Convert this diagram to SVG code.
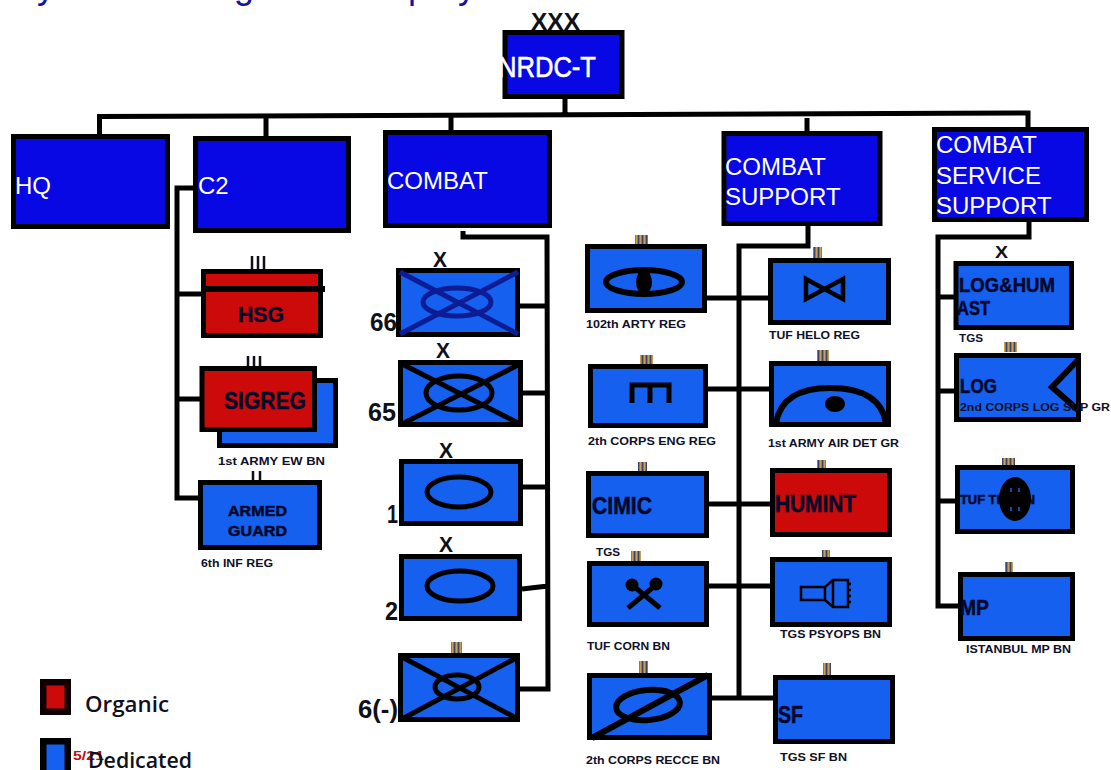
<svg xmlns="http://www.w3.org/2000/svg" width="1111" height="770" viewBox="0 0 1111 770">
<defs>
<pattern id="tick" width="4" height="4" patternUnits="userSpaceOnUse">
<rect width="4" height="4" fill="#6a7cb0"/><rect width="1" height="4" fill="#c8a050"/><rect x="2" width="1" height="4" fill="#3a4270"/>
</pattern>
</defs>
<style>
text{font-family:"Liberation Sans",Arial,sans-serif}
.b{fill:#0808e4;stroke:#000;stroke-width:5}
.m{fill:#1560ee;stroke:#000;stroke-width:5}
.r{fill:#cc0a0a;stroke:#000;stroke-width:5}
.w{fill:#fff;font-size:24px}
.d{fill:#06082a;stroke:#06082a;stroke-width:.5;font-weight:bold;font-size:22px}
.k{fill:#101018;font-weight:bold}
.l{fill:#101028;font-weight:bold;font-size:10.5px}
.c{fill:none;stroke:#000;stroke-width:5}
.s{fill:none;stroke:#000;stroke-width:5}
.n{fill:none;stroke:#0c1c94;stroke-width:5}
.t{fill:url(#tick)}
.tk{fill:none;stroke:#101018;stroke-width:2.5}
.h{fill:#14149c;font-size:36px}
.lg{fill:#10101c;font-size:22px;font-family:"Open Sans","Liberation Sans",sans-serif;font-weight:600}
</style>
<g id="title">
<text class="h" x="37" y="-2">y</text>
<text class="h" x="234" y="-2">g</text>
<text class="h" x="408" y="-2">p</text>
<text class="h" x="458" y="-2">y</text>
</g>
<g id="connectors">
<path class="c" d="M565 99V115M99.500 135V116.500L1028 113V128M266 118V137M451 117V131M807 118V132"/>
<path class="c" d="M197 188H177V498H199M177 294H202M177 399H200"/>
<path class="c" d="M463 231V237H547L548 689H520M520 306H546M523 393H547M523 487H547M522 589L548 586"/>
<path class="c" d="M808 226V246H739V698M707 298H768M708 389H769M709 504H770M709 586H770M712 698H773"/>
<path class="c" d="M1029 222V237H938V606H960M938 297H955M938 391H955M938 501H956"/>
</g>
<g id="nrdc-t"><rect class="b" x="505" y="32.500" width="117" height="64"/><text x="498" y="77" textLength="98" lengthAdjust="spacingAndGlyphs" style="fill:#fff;stroke:#fff;stroke-width:.6;font-size:30px">NRDC-T</text><text class="k" x="531" y="30" textLength="49" lengthAdjust="spacingAndGlyphs" style="font-size:23px">XXX</text></g>
<g id="hq"><rect class="b" x="13.500" y="136.500" width="154" height="90"/><text class="w" x="15" y="194">HQ</text></g>
<g id="c2"><rect class="b" x="195.500" y="138.500" width="153" height="92"/><text class="w" x="198" y="194">C2</text></g>
<g id="combat"><rect class="b" x="385.500" y="132.500" width="164" height="93"/><text class="w" x="387" y="189">COMBAT</text></g>
<g id="combat-support"><rect class="b" x="724" y="133.500" width="156" height="90"/><text class="w" x="725" y="175">COMBAT</text><text class="w" x="725" y="205">SUPPORT</text></g>
<g id="combat-service-support"><rect class="b" x="934.500" y="129.500" width="152" height="90"/><text class="w" x="936" y="153">COMBAT</text><text class="w" x="936" y="184">SERVICE</text><text class="w" x="936" y="214">SUPPORT</text></g>

<g id="hsg"><rect class="r" x="203.500" y="271.500" width="117" height="64"/><path d="M201 289H325" stroke="#000" stroke-width="6"/><path class="tk" d="M252 256V269M258 256V269M264 256V269"/><text class="d" x="238" y="322" textLength="46" lengthAdjust="spacingAndGlyphs">HSG</text></g>
<g id="sigreg"><rect class="m" x="219.500" y="380.500" width="116" height="65"/><rect class="r" x="202" y="368.500" width="112.500" height="61"/><path class="tk" d="M248 356V366M254 356V366M260 356V366"/><text class="d" x="224" y="409" textLength="82" lengthAdjust="spacingAndGlyphs" style="font-size:24px">SIGREG</text><text class="l" x="218" y="465" textLength="107" lengthAdjust="spacingAndGlyphs">1st ARMY EW BN</text></g>
<g id="armed-guard"><rect class="m" x="200.500" y="482.500" width="119" height="65"/><path class="tk" d="M253 471V480M260 471V480"/><text class="d" x="228" y="516" textLength="59" lengthAdjust="spacingAndGlyphs" style="font-size:15px">ARMED</text><text class="d" x="228" y="536" textLength="59" lengthAdjust="spacingAndGlyphs" style="font-size:15px">GUARD</text><text class="l" x="201" y="567" textLength="72" lengthAdjust="spacingAndGlyphs">6th INF REG</text></g>

<g id="bde-66"><rect class="m" x="398.500" y="270.500" width="119" height="64"/><path class="n" d="M400 272L518 334M518 272L400 334"/><ellipse class="n" cx="457" cy="302" rx="34" ry="14"/><text class="k" x="370" y="331" textLength="27" lengthAdjust="spacingAndGlyphs" style="font-size:26px">66</text><text class="k" x="433" y="267" textLength="14" lengthAdjust="spacingAndGlyphs" style="font-size:22px">X</text></g>
<g id="bde-65"><rect class="m" x="400.500" y="362.500" width="120" height="62"/><path class="s" d="M402 364L520 424M520 364L402 424"/><ellipse class="s" cx="459" cy="393" rx="33" ry="17"/><text class="k" x="368" y="421" textLength="28" lengthAdjust="spacingAndGlyphs" style="font-size:26px">65</text><text class="k" x="436" y="358" textLength="14" lengthAdjust="spacingAndGlyphs" style="font-size:22px">X</text></g>
<g id="bde-1"><rect class="m" x="401.500" y="461.500" width="119" height="62"/><ellipse class="s" cx="459" cy="492" rx="32" ry="15"/><text class="k" x="387" y="523" textLength="11" lengthAdjust="spacingAndGlyphs" style="font-size:26px">1</text><text class="k" x="439" y="458" textLength="14" lengthAdjust="spacingAndGlyphs" style="font-size:22px">X</text></g>
<g id="bde-2"><rect class="m" x="401.500" y="556.500" width="118" height="62"/><ellipse class="s" cx="460" cy="586" rx="33" ry="15"/><text class="k" x="385" y="620" textLength="13" lengthAdjust="spacingAndGlyphs" style="font-size:26px">2</text><text class="k" x="439" y="552" textLength="14" lengthAdjust="spacingAndGlyphs" style="font-size:22px">X</text></g>
<g id="reg-6"><rect class="m" x="400.500" y="655.500" width="117" height="64"/><path class="s" d="M402 657L518 719M518 657L402 719"/><ellipse class="s" cx="457" cy="687" rx="22" ry="12"/><rect class="t" x="451" y="642" width="11" height="11"/><text class="k" x="358" y="718" textLength="40" lengthAdjust="spacingAndGlyphs" style="font-size:26px">6(-)</text></g>

<g id="arty"><rect class="m" x="587.500" y="246.500" width="117" height="64"/><ellipse class="s" cx="644" cy="282" rx="38" ry="12" style="stroke-width:6"/><ellipse cx="644" cy="282" rx="8" ry="12"/><rect class="t" x="635" y="235" width="13" height="9"/><text class="l" x="586" y="328" textLength="100" lengthAdjust="spacingAndGlyphs">102th ARTY REG</text></g>
<g id="helo"><rect class="m" x="770.500" y="260.500" width="118" height="62"/><path class="s" d="M806 279L843 299V279L806 299Z" style="stroke-width:4.500"/><rect class="t" x="813" y="247" width="9" height="11"/><text class="l" x="769" y="339" textLength="91" lengthAdjust="spacingAndGlyphs">TUF HELO REG</text></g>
<g id="eng"><rect class="m" x="590.500" y="366.500" width="115" height="59"/><path class="s" d="M632 403V385H669V403M650 385V403"/><rect class="t" x="640" y="355" width="13" height="9"/><text class="l" x="588" y="445" textLength="128" lengthAdjust="spacingAndGlyphs">2th CORPS ENG REG</text></g>
<g id="air-det"><rect class="m" x="771.500" y="363.500" width="117" height="61"/><path class="s" d="M776 423Q782 388 830 388Q880 388 886 423" style="stroke-width:6"/><ellipse cx="835" cy="404" rx="10" ry="8"/><rect class="t" x="817" y="350" width="12" height="11"/><text class="l" x="768" y="447" textLength="131" lengthAdjust="spacingAndGlyphs">1st ARMY AIR DET GR</text></g>
<g id="cimic"><rect class="m" x="588.500" y="473.500" width="118" height="62"/><rect class="t" x="638" y="462" width="9" height="9"/><text class="d" x="592" y="514" textLength="60" lengthAdjust="spacingAndGlyphs" style="font-size:24px">CIMIC</text><text class="l" x="596" y="556" textLength="24" lengthAdjust="spacingAndGlyphs">TGS</text></g>
<g id="humint"><rect class="r" x="772.500" y="470.500" width="117" height="64"/><rect class="t" x="817" y="460" width="9" height="8"/><text class="d" x="775" y="512" textLength="81" lengthAdjust="spacingAndGlyphs" style="font-size:24px">HUMINT</text></g>
<g id="corn"><rect class="m" x="589.500" y="563.500" width="117" height="61"/><path class="s" d="M628 608L657 584M660 608L631 584"/><circle cx="632" cy="585" r="6.500"/><circle cx="656" cy="584" r="6.500"/><rect class="t" x="631" y="551" width="10" height="10"/><text class="l" x="587" y="650" textLength="83" lengthAdjust="spacingAndGlyphs">TUF CORN BN</text></g>
<g id="psyops"><rect class="m" x="772.500" y="559.500" width="117" height="65"/><path class="s" d="M801 587H825V600H801ZM825 587L833 580H848V607H833L825 600M833 580V607M848 584H851M848 590H851M848 596H851M848 602H851" style="stroke-width:2.500"/><rect class="t" x="822" y="550" width="8" height="7"/><text class="l" x="780" y="638" textLength="101" lengthAdjust="spacingAndGlyphs">TGS PSYOPS BN</text></g>
<g id="recce"><rect class="m" x="589.500" y="675.500" width="120" height="62"/><path class="s" d="M592 738L708 675" style="stroke-width:6"/><ellipse class="s" cx="648" cy="705" rx="32" ry="15" transform="rotate(-5 648 705)" style="stroke-width:6"/><rect class="t" x="639" y="661" width="9" height="12"/><text class="l" x="586" y="764" textLength="134" lengthAdjust="spacingAndGlyphs">2th CORPS RECCE BN</text></g>
<g id="sf"><rect class="m" x="775.500" y="677.500" width="117" height="64"/><rect class="t" x="823" y="663" width="8" height="12"/><text class="d" x="778" y="723" textLength="25" lengthAdjust="spacingAndGlyphs" style="font-size:24px">SF</text><text class="l" x="780" y="761" textLength="67" lengthAdjust="spacingAndGlyphs">TGS SF BN</text></g>

<g id="log-hum"><rect class="m" x="956" y="263.500" width="115.500" height="64"/><text class="k" x="995" y="258" textLength="13" lengthAdjust="spacingAndGlyphs" style="font-size:16px">X</text><text class="d" x="959" y="292" textLength="96" lengthAdjust="spacingAndGlyphs" style="font-size:20px">LOG&amp;HUM</text><text class="d" x="957" y="315" textLength="33" lengthAdjust="spacingAndGlyphs" style="font-size:20px">AST</text><text class="l" x="959" y="342" textLength="24" lengthAdjust="spacingAndGlyphs">TGS</text></g>
<g id="log"><rect class="m" x="956.500" y="355.500" width="122" height="64"/><path class="s" d="M1078 360L1052 387L1078 410" style="stroke-width:6"/><rect class="t" x="1004" y="342" width="13" height="10"/><text class="d" x="960" y="393" textLength="37" lengthAdjust="spacingAndGlyphs" style="font-size:20px">LOG</text><text class="l" x="960" y="411" textLength="150" lengthAdjust="spacingAndGlyphs">2nd CORPS LOG SUP GR</text></g>
<g id="tpt"><rect class="m" x="957.500" y="467.500" width="115" height="64"/><rect class="t" x="1002" y="458" width="13" height="7"/><text class="d" x="960" y="504" textLength="75" lengthAdjust="spacingAndGlyphs" style="font-size:12px">TUF TPT BN</text><ellipse cx="1015" cy="499" rx="16" ry="22"/><path d="M1011 488V492M1019 488V492M1011 507V511M1019 507V511" stroke="#1560ee" stroke-width="1.500"/></g>
<g id="mp"><rect class="m" x="960.500" y="574.500" width="112" height="64"/><rect class="t" x="1005" y="562" width="8" height="10"/><text class="d" x="960" y="615" textLength="29" lengthAdjust="spacingAndGlyphs" style="font-size:22px">MP</text><text class="l" x="966" y="653" textLength="105" lengthAdjust="spacingAndGlyphs">ISTANBUL MP BN</text></g>

<g id="legend-organic"><rect x="43.250" y="682.250" width="24.500" height="29.500" fill="#cc0a0a" stroke="#100004" stroke-width="6.500"/><text class="lg" x="85" y="712" textLength="84" lengthAdjust="spacingAndGlyphs">Organic</text></g>
<g id="legend-dedicated"><rect x="43.250" y="741.250" width="24.500" height="34" fill="#1560ee" stroke="#000" stroke-width="6.500"/><text x="73" y="760" textLength="31" lengthAdjust="spacingAndGlyphs" style="fill:#c01010;font-size:13px;font-weight:bold">5/21</text><text class="lg" x="88" y="768" textLength="104" lengthAdjust="spacingAndGlyphs">Dedicated</text></g>
</svg>
